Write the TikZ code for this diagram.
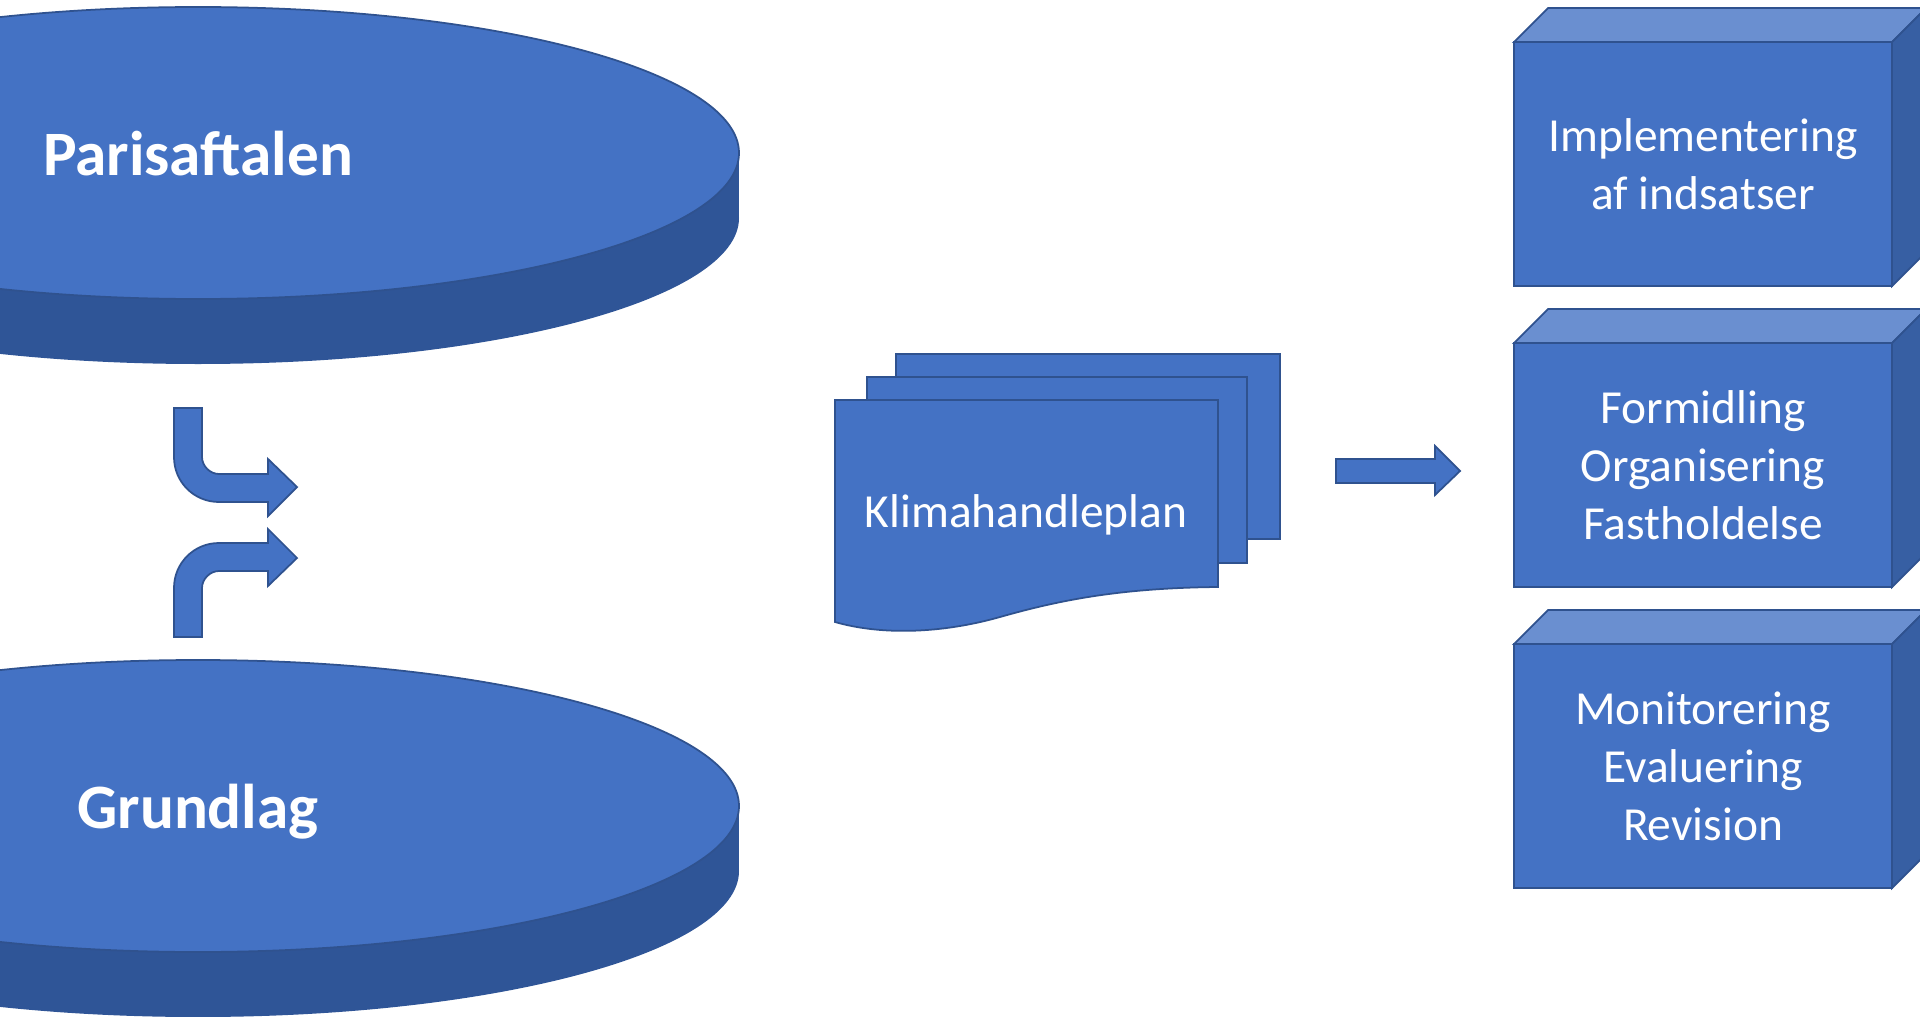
\documentclass[tikz,border=0pt]{standalone}
\usepackage{fontspec}
\setmainfont{Carlito}

\definecolor{office}{HTML}{4472C4}
\definecolor{officedark}{HTML}{2F528F}
\definecolor{diskside}{HTML}{2F5597}
\definecolor{cubetop}{HTML}{6A8FD0}
\definecolor{cubeside}{HTML}{375FA3}

\tikzset{
    blockfill/.style={fill=office, draw=officedark, line width=1pt},
    disklabel/.style={anchor=base, text=white, font=\fontsize{36}{43}\selectfont\bfseries},
    boxlabel/.style={align=center, text=white, font=\fontsize{27}{33}\selectfont},
}

\begin{document}
\begin{tikzpicture}[x=0.02cm, y=-0.02cm]
    \useasboundingbox (0,0) rectangle (1920,1017);
    \clip (0,0) rectangle (1920,1017);

    % the two disks
    \foreach \cy in {153, 806} {
        \fill[diskside] (198,\cy+65) ellipse [x radius=541, y radius=146];
        \fill[diskside] (-343,\cy) rectangle (739,\cy+65);
        \draw[blockfill] (198,\cy) ellipse [x radius=541, y radius=146];
    }
    \node[disklabel] (paris) at (198,175) {Parisaftalen};
    \node[disklabel] (grund) at (198,828) {Grundlag};

    % bent arrows
    \draw[blockfill] (174,408) -- (174,457) .. controls (174,482) and (194,502) .. (219,502) -- (268,502) -- (268,516) -- (297,487) -- (268,459) -- (268,474) -- (219,474) .. controls (210,474) and (202,466) .. (202,457) -- (202,408) -- cycle;
    \draw[blockfill] (174,637) -- (174,588) .. controls (174,563) and (194,543) .. (219,543) -- (268,543) -- (268,529) -- (297,558) -- (268,586) -- (268,571) -- (219,571) .. controls (210,571) and (202,579) .. (202,588) -- (202,637) -- cycle;

    % stack of pages
    \draw[blockfill] (896,354) rectangle (1280,539);
    \draw[blockfill] (867,377) rectangle (1247,563);
    \draw[blockfill] (835,400) -- (1218,400) -- (1218,587) .. controls (1120,588) and (1060,600) .. (1000,617) .. controls (940,634) and (880,635) .. (835,622) -- cycle;
    \node[boxlabel, anchor=base] (plan) at (1026,527) {Klimahandleplan};

    % arrow to the boxes
    \draw[blockfill] (1336,459) -- (1435,459) -- (1435,446) -- (1460,471) -- (1435,495) -- (1435,483) -- (1336,483) -- cycle;

    % boxes
    \foreach \by in {42, 343, 644} {
        \draw[blockfill, fill=cubetop] (1514,\by) -- (1548,\by-34) -- (1926,\by-34) -- (1892,\by) -- cycle;
        \draw[blockfill, fill=cubeside] (1892,\by) -- (1926,\by-34) -- (1926,\by+210) -- (1892,\by+244) -- cycle;
        \draw[blockfill] (1514,\by) rectangle (1892,\by+244);
    }
    \node[boxlabel] (impl) at (1703,164) {Implementering\\af indsatser};
    \node[boxlabel] (form) at (1703,465) {Formidling\\Organisering\\Fastholdelse};
    \node[boxlabel] (moni) at (1703,766) {Monitorering\\Evaluering\\Revision};
\end{tikzpicture}
\end{document}
